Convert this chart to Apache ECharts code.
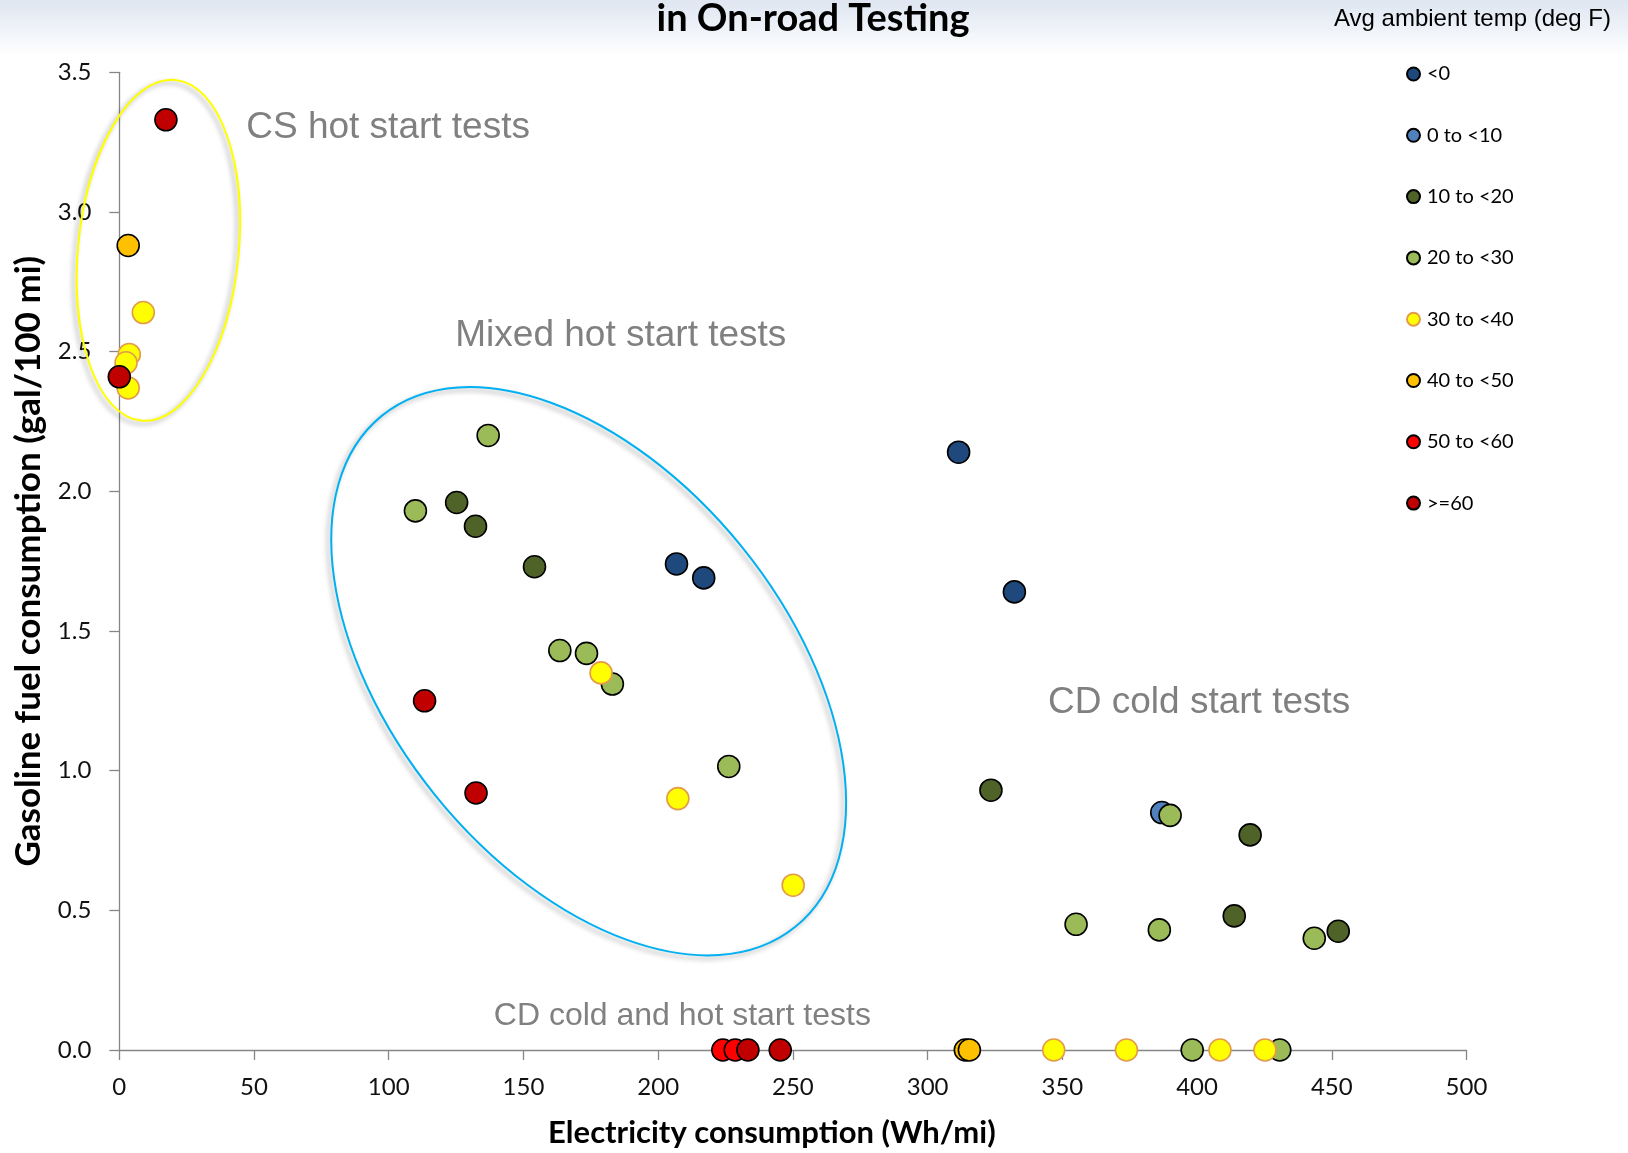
<!DOCTYPE html>
<html>
<head>
<meta charset="utf-8">
<script src="https://cdn.jsdelivr.net/npm/echarts@6/dist/echarts.min.js"></script>
<style>
html,body{margin:0;padding:0;background:#fff;}
#chart{width:1628px;height:1153px;}
</style>
</head>
<body>
<div id="chart"></div>
<script>
// ---- Data (x = Electricity consumption Wh/mi, y = Gasoline fuel consumption gal/100 mi)
const categories = ['<0', '0 to <10', '10 to <20', '20 to <30', '30 to <40', '40 to <50', '50 to <60', '>=60'];

const ptsLt0   = [[206.8,1.74],[216.9,1.69],[311.5,2.14],[332.2,1.64]];
const pts0to10 = [[386.9,0.85]];
const pts10to20 = [[125.2,1.96],[132.2,1.875],[154.1,1.73],[323.5,0.93],[419.7,0.77],[413.8,0.48],[452.4,0.425]];
const pts20to30 = [[136.9,2.20],[109.9,1.93],[163.5,1.43],[173.4,1.42],[183.0,1.31],[226.2,1.015],[390.0,0.84],[355.1,0.45],[386.0,0.43],[443.5,0.40],[398.2,0],[430.7,0]];
const pts30to40 = [[8.9,2.64],[3.7,2.49],[2.5,2.46],[3.3,2.37],[178.8,1.35],[207.3,0.90],[250.1,0.59],[346.8,0],[373.8,0],[408.5,0],[425.2,0]];
const pts40to50 = [[3.3,2.88],[314.0,0],[315.5,0]];
const pts50to60 = [[224.0,0],[228.6,0]];
const ptsGe60   = [[17.3,3.33],[0,2.41],[113.3,1.25],[132.4,0.92],[233.3,0],[245.3,0]];

const seriesData = [ptsLt0, pts0to10, pts10to20, pts20to30, pts30to40, pts40to50, pts50to60, ptsGe60];

// Annotation labels (anchored in data units)
const annoTexts = ['CS hot start tests', 'Mixed hot start tests', 'CD cold start tests', 'CD cold and hot start tests'];
const annoAnchors = [[47.1,3.300],[124.7,2.557],[344.7,1.243],[139.0,0.120]];
// Ellipse centers (data units)
const ellipseCenters = [[14.5,2.863],[174.2,1.356]];

// ---- Styles
const fills   = ['#1F497D','#4F81BD','#4F6228','#9BBB59','#FFFF00','#FFC000','#FF0000','#C00000'];
const borders = ['#000','#000','#000','#000','#E39B4B','#000','#000','#000'];

const chart = echarts.init(document.getElementById('chart'));

const series = categories.map((name, i) => ({
  name: name,
  type: 'scatter',
  data: seriesData[i],
  symbol: 'circle',
  symbolSize: 22,
  itemStyle: { color: fills[i], borderColor: borders[i], borderWidth: 1.6, opacity: 1 },
  emphasis: { disabled: true },
  z: 3
}));

chart.setOption({
  animation: false,
  backgroundColor: '#fff',
  grid: { left: 119.3, right: 161.5, top: 72.3, bottom: 97, containLabel: false },
  xAxis: {
    type: 'value', min: 0, max: 500, interval: 50,
    name: 'Electricity consumption (Wh/mi)',
    nameLocation: 'middle', nameGap: 67,
    nameTextStyle: { fontFamily: 'Lato', fontWeight: 'bold', fontSize: 31, color: '#000', padding: [0, 42, 0, 0] },
    axisLine: { lineStyle: { color: '#868686', width: 1.3 } },
    axisTick: { show: true, length: 10, lineStyle: { color: '#868686', width: 1.3 } },
    axisLabel: { fontFamily: 'Lato', fontSize: 24, color: '#111', margin: 25 },
    splitLine: { show: false }
  },
  yAxis: {
    type: 'value', min: 0, max: 3.5, interval: 0.5,
    name: 'Gasoline fuel consumption (gal/100 mi)',
    nameLocation: 'middle', nameGap: 73, nameRotate: 90,
    nameTextStyle: { fontFamily: 'Lato', fontWeight: 'bold', fontSize: 35, color: '#000' },
    axisLine: { show: true, lineStyle: { color: '#868686', width: 1.3 } },
    axisTick: { show: true, length: 10, lineStyle: { color: '#868686', width: 1.3 } },
    axisLabel: { fontFamily: 'Lato', fontSize: 24, color: '#111', margin: 28, formatter: v => v.toFixed(1) },
    splitLine: { show: false }
  },
  legend: {
    orient: 'vertical',
    left: 1401, top: 59,
    itemWidth: 13, itemHeight: 13, itemGap: 41.3,
    icon: 'circle',
    data: categories,
    textStyle: { fontFamily: 'Lato', fontSize: 20, color: '#000', lineHeight: 20, padding: [0,0,0,2] },
    selectedMode: false
  },
  series: series
});

function px(p) { return chart.convertToPixel({ gridIndex: 0 }, p); }

const c0 = px(ellipseCenters[0]);
const c1 = px(ellipseCenters[1]);
const ellShadow = { shadowBlur: 5, shadowColor: 'rgba(0,0,0,0.35)', shadowOffsetX: -3, shadowOffsetY: 3 };

const graphics = [
  {
    type: 'rect', z: -10, silent: true,
    shape: { x: 0, y: 0, width: 1628, height: 55 },
    style: { fill: new echarts.graphic.LinearGradient(0, 0, 0, 1, [
      { offset: 0, color: '#dfe6f1' }, { offset: 0.5, color: '#eef2f8' }, { offset: 1, color: '#ffffff' }
    ]) }
  },
  {
    type: 'text', z: 10, silent: true,
    x: 813, y: 19,
    style: { text: 'in On-road Testing', font: 'bold 38px Lato', fill: '#000', textAlign: 'center', textVerticalAlign: 'middle' }
  },
  {
    type: 'text', z: 10, silent: true,
    x: 1334, y: 19,
    style: { text: 'Avg ambient temp (deg F)', font: '24px "Liberation Sans", Arial, sans-serif', fill: '#000', textAlign: 'left', textVerticalAlign: 'middle' }
  },
  {
    type: 'ellipse', z: 2, silent: true,
    x: c0[0], y: c0[1], rotation: -0.1,
    shape: { cx: 0, cy: 0, rx: 80.3, ry: 171.2 },
    style: Object.assign({ fill: 'none', stroke: '#FFFF00', lineWidth: 2 }, ellShadow)
  },
  {
    type: 'ellipse', z: 2, silent: true,
    x: c1[0], y: c1[1], rotation: 0.68,
    shape: { cx: 0, cy: 0, rx: 197.3, ry: 328.7 },
    style: Object.assign({ fill: 'none', stroke: '#00B0F0', lineWidth: 2 }, ellShadow)
  }
];

annoTexts.forEach((t, i) => {
  const p = px(annoAnchors[i]);
  graphics.push({
    type: 'text', z: 4, silent: true,
    x: p[0], y: p[1],
    style: {
      text: t,
      font: (i === 3 ? '32px' : '37px') + ' "Liberation Sans", Arial, sans-serif',
      fill: '#808080', textAlign: 'left', textVerticalAlign: 'middle'
    }
  });
});

chart.setOption({ graphic: graphics });
</script>
</body>
</html>
